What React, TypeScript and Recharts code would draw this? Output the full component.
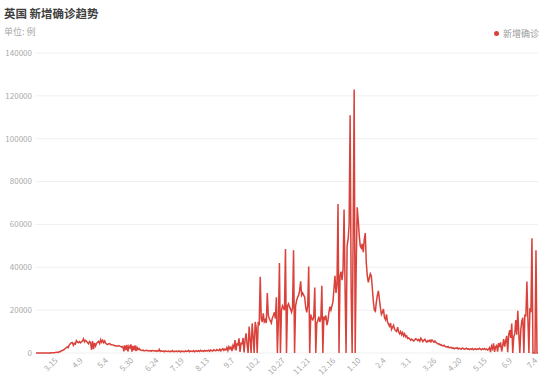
import { LineChart, Line, XAxis, YAxis, CartesianGrid } from "recharts"

// daily new confirmed cases, from 2020-02-22 to 2021-07-04 (5.20 of 2020 missing)
const values = [
  0, 0, 0, 0, 0, 0, 0, 0, 10, 20,
  10, 30, 40, 50, 60, 50, 80, 90, 130, 200,
  300, 380, 250, 640, 620, 1000, 1150, 1400, 1700, 2100,
  2500, 2800, 2500, 3800, 4300, 4800, 4900, 3600, 4500, 4200,
  5800, 5200, 4800, 5300, 4700, 5200, 5600, 6600, 5200, 5900,
  5500, 4900, 4300, 5300, 4800, 1500, 5600, 1800, 4700, 3300,
  4600, 4900, 5400, 4400, 6200, 5000, 5900, 4800, 5600, 4500,
  4100, 3900, 4300, 4400, 3900, 3900, 3800, 3600, 3400, 3400,
  3200, 3300, 3500, 3200, 3000, 2700, 3000, 800, 3600, 1400,
  3800, 700, 3200, 2400, 4000, 600, 3300, 1200, 3600, 900,
  2700, 1600, 2100, 1500, 1300, 1200, 1400, 1000, 1100, 1300,
  1200, 900, 1000, 1100, 800, 1200, 1000, 900, 1100, 800,
  1000, 900, 1700, 700, 1000, 800, 900, 600, 1000, 800,
  700, 900, 600, 800, 700, 1100, 600, 800, 700, 900,
  600, 800, 1000, 500, 900, 700, 800, 600, 1000, 700,
  800, 1200, 600, 900, 800, 700, 1100, 600, 900, 1000,
  800, 1100, 700, 1300, 900, 1000, 800, 1200, 900, 1100,
  1000, 1300, 800, 1400, 1100, 900, 1500, 1200, 1000, 1600,
  1300, 1100, 1800, 1000, 1600, 2000, 1200, 1800, 1400, 2600,
  1100, 2900, 1900, 2700, 900, 3500, 2400, 6000, 1200, 4200,
  3800, 6800, 500, 4500, 4300, 7000, 300, 6200, 9200, 4000,
  0, 12300, 6500, 0, 13800, 7600, 0, 14500, 12000, 0,
  14000, 13500, 35600, 16000, 14500, 18500, 14500, 15500, 14000, 28000,
  17500, 16000, 15000, 14000, 16500, 17500, 19000, 16000, 26000, 0,
  15000, 42000, 0, 20000, 22000, 21000, 20000, 48500, 0, 22000,
  23000, 21500, 20500, 19000, 21000, 48000, 0, 22000, 24500, 26000,
  27000, 29000, 33500, 27000, 28000, 27000, 26000, 21500, 19000, 22000,
  40400, 0, 18000, 16000, 15500, 17000, 30600, 0, 14000, 15000,
  17000, 14500, 16000, 31400, 0, 17000, 16000, 17500, 13000, 15000,
  19000, 21600, 20000, 22000, 24000, 30000, 36000, 28000, 32000, 69500,
  0, 36000, 38000, 34000, 39000, 67000, 30000, 0, 50000, 53000,
  60000, 111000, 30000, 0, 55000, 123000, 0, 40000, 68000, 62000,
  55000, 50000, 49000, 51000, 47000, 53000, 56000, 42000, 36000, 33000,
  35000, 37000, 36000, 30000, 24000, 20000, 19500, 24000, 27000, 29000,
  25000, 21000, 18000, 19000, 20500, 16500, 15500, 18000, 14500, 13500,
  12500, 14000, 11000, 12000, 13000, 11000, 10500, 10000, 12000, 10000,
  9000, 10000, 8500, 9500, 8000, 9000, 7500, 8000, 6800, 7000,
  6500, 5900, 6500, 6000, 5600, 6200, 6700, 6400, 5800, 6300,
  5500, 6900, 6200, 5300, 5900, 6400, 5500, 5100, 5800, 5400,
  6000, 5200, 6100, 5600, 5000, 5600, 4900, 4600, 4200, 4300,
  3800, 3900, 3500, 3300, 3600, 3100, 2900, 2700, 3000, 2500,
  2600, 2700, 2200, 2400, 2000, 2300, 2100, 2500, 1900, 2200,
  2000, 1800, 2300, 2100, 1700, 1900, 2200, 1800, 2000, 1600,
  1900, 1700, 2100, 1500, 1800, 2000, 1600, 1900, 1700, 2200,
  1800, 1500, 2000, 1700, 2100, 1600, 1900, 1400, 1700, 2500,
  400, 3200, 2000, 4500, 500, 2900, 3500, 600, 4600, 2800,
  5000, 700, 3200, 6500, 3000, 5600, 8000, 400, 8500, 10700,
  7000, 13800, 0, 7500, 9000, 15400, 8500, 19700, 9000, 0,
  11000, 15000, 16500, 0, 18000, 17000, 33300, 16000, 0, 21000,
  19000, 53500, 0, 0, 0, 48000, 0, 0,
]

const tickLabels = [
  "3.15", "4.9", "5.4", "5.30", "6.24", "7.19", "8.13", "9.7", "10.2", "10.27",
  "11.21", "12.16", "1.10", "2.4", "3.1", "3.26", "4.20", "5.15", "6.9", "7.4",
]

const yTicks = [0, 20000, 40000, 60000, 80000, 100000, 120000, 140000]

function buildDates(n: number) {
  const out: string[] = []
  let t = Date.UTC(2020, 1, 22)
  while (out.length < n) {
    const d = new Date(t)
    const label = `${d.getUTCMonth() + 1}.${d.getUTCDate()}`
    if (!(d.getUTCFullYear() === 2020 && label === "5.20")) out.push(label)
    t += 86400000
  }
  return out
}

const dates = buildDates(values.length)

const tickIdx: number[] = []
let from = 0
tickLabels.forEach((lab) => {
  const k = dates.indexOf(lab, from)
  if (k >= 0) {
    tickIdx.push(k)
    from = k + 1
  }
})

const data = values.map((v, i) => ({ i, date: dates[i], cases: v }))

const FONT = "'Noto Sans CJK SC', 'Noto Sans', sans-serif"

const XTick = (props: any) => {
  const { x, y, payload } = props
  return (
    <text
      x={x}
      y={y}
      transform={`rotate(-45 ${x} ${y})`}
      textAnchor="end"
      fontSize={8}
      fill="#aaa"
      fontFamily={FONT}
    >
      {dates[payload.value]}
    </text>
  )
}

export default function App() {
  return (
    <div style={{ position: "absolute", left: 0, top: 0, width: 550, height: 379, background: "#fff", fontFamily: FONT }}>
      <div style={{ position: "absolute", left: 4, top: 8, fontSize: 11.5, lineHeight: "11.5px", fontWeight: 700, color: "#404040" }}>
        英国 新增确诊趋势
      </div>
      <div style={{ position: "absolute", left: 4, top: 27, fontSize: 9, lineHeight: "9px", color: "#aaa" }}>
        单位: 例
      </div>
      <div style={{ position: "absolute", left: 493.5, top: 30.5, width: 5, height: 5, borderRadius: "50%", background: "#d9413a" }} />
      <div style={{ position: "absolute", left: 503, top: 28.5, fontSize: 9, lineHeight: "9px", color: "#999" }}>
        新增确诊
      </div>
      <LineChart width={550} height={379} data={data} margin={{ top: 53, right: 12, left: 0, bottom: 0 }}>
        <CartesianGrid horizontal={true} vertical={false} stroke="#efefef" />
        <XAxis
          dataKey="i"
          type="number"
          domain={[0, values.length - 1]}
          ticks={tickIdx}
          interval={0}
          height={26}
          tick={<XTick />}
          tickLine={false}
          axisLine={false}
          tickSize={6}
          tickMargin={2}
        />
        <YAxis
          domain={[0, 140000]}
          ticks={yTicks}
          width={36}
          tickLine={false}
          axisLine={false}
          tickSize={2}
          tickMargin={2}
          tick={{ fontSize: 8, fill: "#aaa", fontFamily: FONT }}
        />
        <Line
          type="linear"
          dataKey="cases"
          stroke="#d9413a"
          strokeWidth={1.5}
          dot={false}
          isAnimationActive={false}
        />
      </LineChart>
    </div>
  )
}
